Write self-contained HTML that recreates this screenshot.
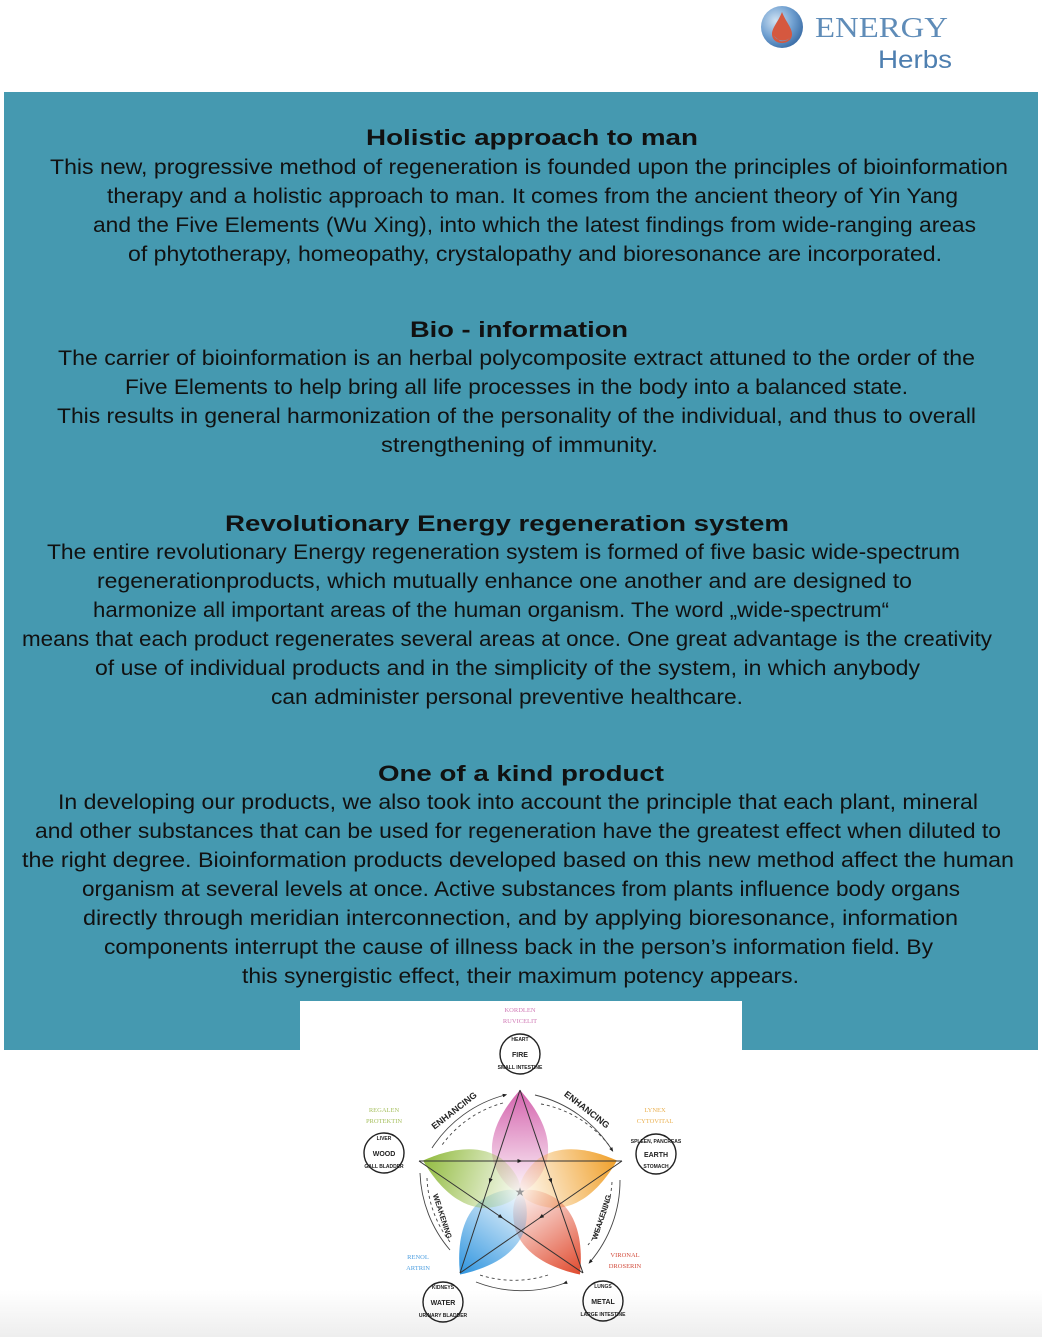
<!DOCTYPE html>
<html><head><meta charset="utf-8"><style>html,body{margin:0;padding:0;background:#fff}svg{display:block}</style></head><body>
<svg width="1042" height="1337" viewBox="0 0 1042 1337" xmlns="http://www.w3.org/2000/svg">
<defs>
<radialGradient id="lg" cx="0.35" cy="0.35" r="0.7"><stop offset="0" stop-color="#cfe2f3"/><stop offset="0.6" stop-color="#6f9fd0"/><stop offset="1" stop-color="#3d6fa8"/></radialGradient>
<linearGradient id="gp" x1="0" y1="0" x2="0" y2="1"><stop offset="0" stop-color="#d463ad"/><stop offset="1" stop-color="#d463ad" stop-opacity="0.05"/></linearGradient>
<linearGradient id="go" x1="0" y1="0" x2="0" y2="1"><stop offset="0" stop-color="#f0a02a"/><stop offset="1" stop-color="#f0a02a" stop-opacity="0.05"/></linearGradient>
<linearGradient id="gr" x1="0" y1="0" x2="0" y2="1"><stop offset="0" stop-color="#e04a2e"/><stop offset="1" stop-color="#e04a2e" stop-opacity="0.05"/></linearGradient>
<linearGradient id="gb" x1="0" y1="0" x2="0" y2="1"><stop offset="0" stop-color="#2f95df"/><stop offset="1" stop-color="#2f95df" stop-opacity="0.05"/></linearGradient>
<linearGradient id="gg" x1="0" y1="0" x2="0" y2="1"><stop offset="0" stop-color="#92bb40"/><stop offset="1" stop-color="#92bb40" stop-opacity="0.05"/></linearGradient>
<path id="petal" d="M0,-102 C18,-82 34,-55 26,-28 C18,-8 6,0 0,0 C-6,0 -18,-8 -26,-28 C-34,-55 -18,-82 0,-102 Z"/>
<marker id="ar" viewBox="0 0 10 10" refX="5" refY="5" markerWidth="5" markerHeight="5" orient="auto"><path d="M0,1 L10,5 L0,9 Z" fill="#222"/></marker>
<linearGradient id="bot" x1="0" y1="0" x2="0" y2="1"><stop offset="0" stop-color="#fff"/><stop offset="1" stop-color="#eeeeee"/></linearGradient>
</defs>
<rect x="0" y="1290" width="1042" height="47" fill="url(#bot)"/>
<circle cx="782" cy="27" r="21" fill="url(#lg)"/>
<path d="M782,12 C786,22 792,28 792,34 C792,40 787,43 782,43 C777,43 772,40 772,34 C772,28 778,22 782,12 Z" fill="#d5583f"/>
<path d="M774,36 C778,42 788,42 791,36 C789,40 784,42 780,41 Z" fill="#6aa0d0"/>
<text x="815" y="37" font-family="Liberation Serif, serif" font-size="29" fill="#5f8cb8" textLength="133" lengthAdjust="spacingAndGlyphs">ENERGY</text>
<text x="878" y="68" font-family="Liberation Sans, sans-serif" font-size="25" fill="#4e7fb0" textLength="74" lengthAdjust="spacingAndGlyphs">Herbs</text>
<rect x="4" y="92" width="1034" height="958" fill="#4599b0"/>
<rect x="300" y="1001" width="442" height="50" fill="#fff"/>
<g font-family="Liberation Sans, sans-serif" fill="#111">
<g font-weight="bold" font-size="22">
<text x="366" y="145" textLength="332" lengthAdjust="spacingAndGlyphs">Holistic approach to man</text>
<text x="410" y="337" textLength="218" lengthAdjust="spacingAndGlyphs">Bio - information</text>
<text x="225" y="531" textLength="564" lengthAdjust="spacingAndGlyphs">Revolutionary Energy regeneration system</text>
<text x="378" y="781" textLength="286" lengthAdjust="spacingAndGlyphs">One of a kind product</text>
</g>
<g font-size="21">
<text x="50" y="174" textLength="958" lengthAdjust="spacingAndGlyphs">This new, progressive method of regeneration is founded upon the principles of bioinformation</text>
<text x="107" y="203" textLength="851" lengthAdjust="spacingAndGlyphs">therapy and a holistic approach to man. It comes from the ancient theory of Yin Yang</text>
<text x="93" y="232" textLength="883" lengthAdjust="spacingAndGlyphs">and the Five Elements (Wu Xing), into which the latest findings from wide-ranging areas</text>
<text x="128" y="261" textLength="814" lengthAdjust="spacingAndGlyphs">of phytotherapy, homeopathy, crystalopathy and bioresonance are incorporated.</text>
<text x="58" y="365" textLength="917" lengthAdjust="spacingAndGlyphs">The carrier of bioinformation is an herbal polycomposite extract attuned to the order of the</text>
<text x="125" y="394" textLength="783" lengthAdjust="spacingAndGlyphs">Five Elements to help bring all life processes in the body into a balanced state.</text>
<text x="57" y="423" textLength="919" lengthAdjust="spacingAndGlyphs">This results in general harmonization of the personality of the individual, and thus to overall</text>
<text x="381" y="452" textLength="277" lengthAdjust="spacingAndGlyphs">strengthening of immunity.</text>
<text x="47" y="559" textLength="913" lengthAdjust="spacingAndGlyphs">The entire revolutionary Energy regeneration system is formed of five basic wide-spectrum</text>
<text x="97" y="588" textLength="815" lengthAdjust="spacingAndGlyphs">regenerationproducts, which mutually enhance one another and are designed to</text>
<text x="93" y="617" textLength="796" lengthAdjust="spacingAndGlyphs">harmonize all important areas of the human organism. The word „wide-spectrum“</text>
<text x="22" y="646" textLength="970" lengthAdjust="spacingAndGlyphs">means that each product regenerates several areas at once. One great advantage is the creativity</text>
<text x="95" y="675" textLength="825" lengthAdjust="spacingAndGlyphs">of use of individual products and in the simplicity of the system, in which anybody</text>
<text x="271" y="704" textLength="472" lengthAdjust="spacingAndGlyphs">can administer personal preventive healthcare.</text>
<text x="58" y="809" textLength="920" lengthAdjust="spacingAndGlyphs">In developing our products, we also took into account the principle that each plant, mineral</text>
<text x="35" y="838" textLength="966" lengthAdjust="spacingAndGlyphs">and other substances that can be used for regeneration have the greatest effect when diluted to</text>
<text x="22" y="867" textLength="992" lengthAdjust="spacingAndGlyphs">the right degree.  Bioinformation products developed based on this new method affect the human</text>
<text x="82" y="896" textLength="878" lengthAdjust="spacingAndGlyphs">organism at several levels at once. Active substances from plants influence body organs</text>
<text x="83" y="925" textLength="875" lengthAdjust="spacingAndGlyphs">directly through meridian interconnection,  and by applying bioresonance, information</text>
<text x="104" y="954" textLength="829" lengthAdjust="spacingAndGlyphs">components interrupt the cause of illness back in the person’s information field. By</text>
<text x="242" y="983" textLength="557" lengthAdjust="spacingAndGlyphs">this synergistic effect, their maximum potency appears.</text>
</g>
</g>
<g transform="translate(520,1192)">
<use href="#petal" fill="url(#gp)"/>
<use href="#petal" fill="url(#go)" transform="rotate(72)"/>
<use href="#petal" fill="url(#gr)" transform="rotate(144)"/>
<use href="#petal" fill="url(#gb)" transform="rotate(216)"/>
<use href="#petal" fill="url(#gg)" transform="rotate(288)"/>
</g>
<g stroke="#333" stroke-width="1" fill="none" marker-mid="url(#ar)">
<path d="M520,1090 L490,1181 L460,1273"/>
<path d="M520,1090 L551,1181 L583,1273"/>
<path d="M419,1161 L520,1161 L622,1161"/>
<path d="M419,1161 L501,1217 L583,1273"/>
<path d="M622,1161 L541,1217 L460,1273"/>
</g>
<text x="520" y="1196" font-size="12" fill="#999" text-anchor="middle">★</text>
<g fill="none" stroke="#444" stroke-width="0.9">
<path d="M432,1148 A125,125 0 0 1 505,1095" marker-end="url(#ar)"/>
<path d="M535,1095 A125,125 0 0 1 612,1150" marker-end="url(#ar)"/>
<path d="M620,1180 A125,125 0 0 1 590,1262" marker-end="url(#ar)"/>
<path d="M565,1283 A125,125 0 0 1 476,1282" marker-start="url(#ar)"/>
<path d="M420,1173 A125,125 0 0 0 450,1250"/>
<g stroke-dasharray="3,3">
<path d="M503,1103 A112,112 0 0 0 442,1145"/>
<path d="M541,1104 A112,112 0 0 1 611,1148"/>
<path d="M612,1182 A112,112 0 0 1 588,1245"/>
<path d="M548,1275 A112,112 0 0 1 480,1275"/>
<path d="M427,1178 A112,112 0 0 0 450,1242"/>
</g>
</g>
<g font-family="Liberation Sans, sans-serif" font-weight="bold" font-size="9" fill="#222" text-anchor="middle">
<text transform="translate(456,1113) rotate(-38)">ENHANCING</text>
<text transform="translate(585,1112) rotate(38)">ENHANCING</text>
<text transform="translate(440,1217) rotate(72)" font-size="7.5">WEAKENING</text>
<text transform="translate(604,1218) rotate(-72)" font-size="7.5">WEAKENING</text>
</g>
<g fill="none" stroke="#222" stroke-width="1.4">
<circle cx="520" cy="1054" r="20"/><circle cx="384" cy="1153" r="20"/><circle cx="656" cy="1154" r="20"/><circle cx="443" cy="1302" r="20"/><circle cx="603" cy="1301" r="20"/>
</g>
<g font-family="Liberation Sans, sans-serif" font-weight="bold" font-size="7" fill="#222" text-anchor="middle">
<text x="520" y="1057">FIRE</text><text x="384" y="1156">WOOD</text><text x="656" y="1157">EARTH</text><text x="443" y="1305">WATER</text><text x="603" y="1304">METAL</text>
<g font-size="5">
<text x="520" y="1041">HEART</text><text x="520" y="1069">SMALL INTESTINE</text>
<text x="384" y="1140">LIVER</text><text x="384" y="1168">GALL BLADDER</text>
<text x="656" y="1143">SPLEEN, PANCREAS</text><text x="656" y="1168">STOMACH</text>
<text x="443" y="1289">KIDNEYS</text><text x="443" y="1317">URINARY BLADDER</text>
<text x="603" y="1288">LUNGS</text><text x="603" y="1316">LARGE INTESTINE</text>
</g>
</g>
<g font-family="Liberation Serif, serif" font-size="6.5" text-anchor="middle">
<text x="520" y="1012" fill="#d079b5">KORDLEN</text><text x="520" y="1023" fill="#d079b5">RUVICELIT</text>
<text x="384" y="1112" fill="#a7c060">REGALEN</text><text x="384" y="1123" fill="#a7c060">PROTEKTIN</text>
<text x="655" y="1112" fill="#eab050">LYNEX</text><text x="655" y="1123" fill="#eab050">CYTOVITAL</text>
<text x="418" y="1259" fill="#4c9ee0">RENOL</text><text x="418" y="1270" fill="#4c9ee0">ARTRIN</text>
<text x="625" y="1257" fill="#d24c3c">VIRONAL</text><text x="625" y="1268" fill="#d24c3c">DROSERIN</text>
</g>
</svg>
</body></html>
